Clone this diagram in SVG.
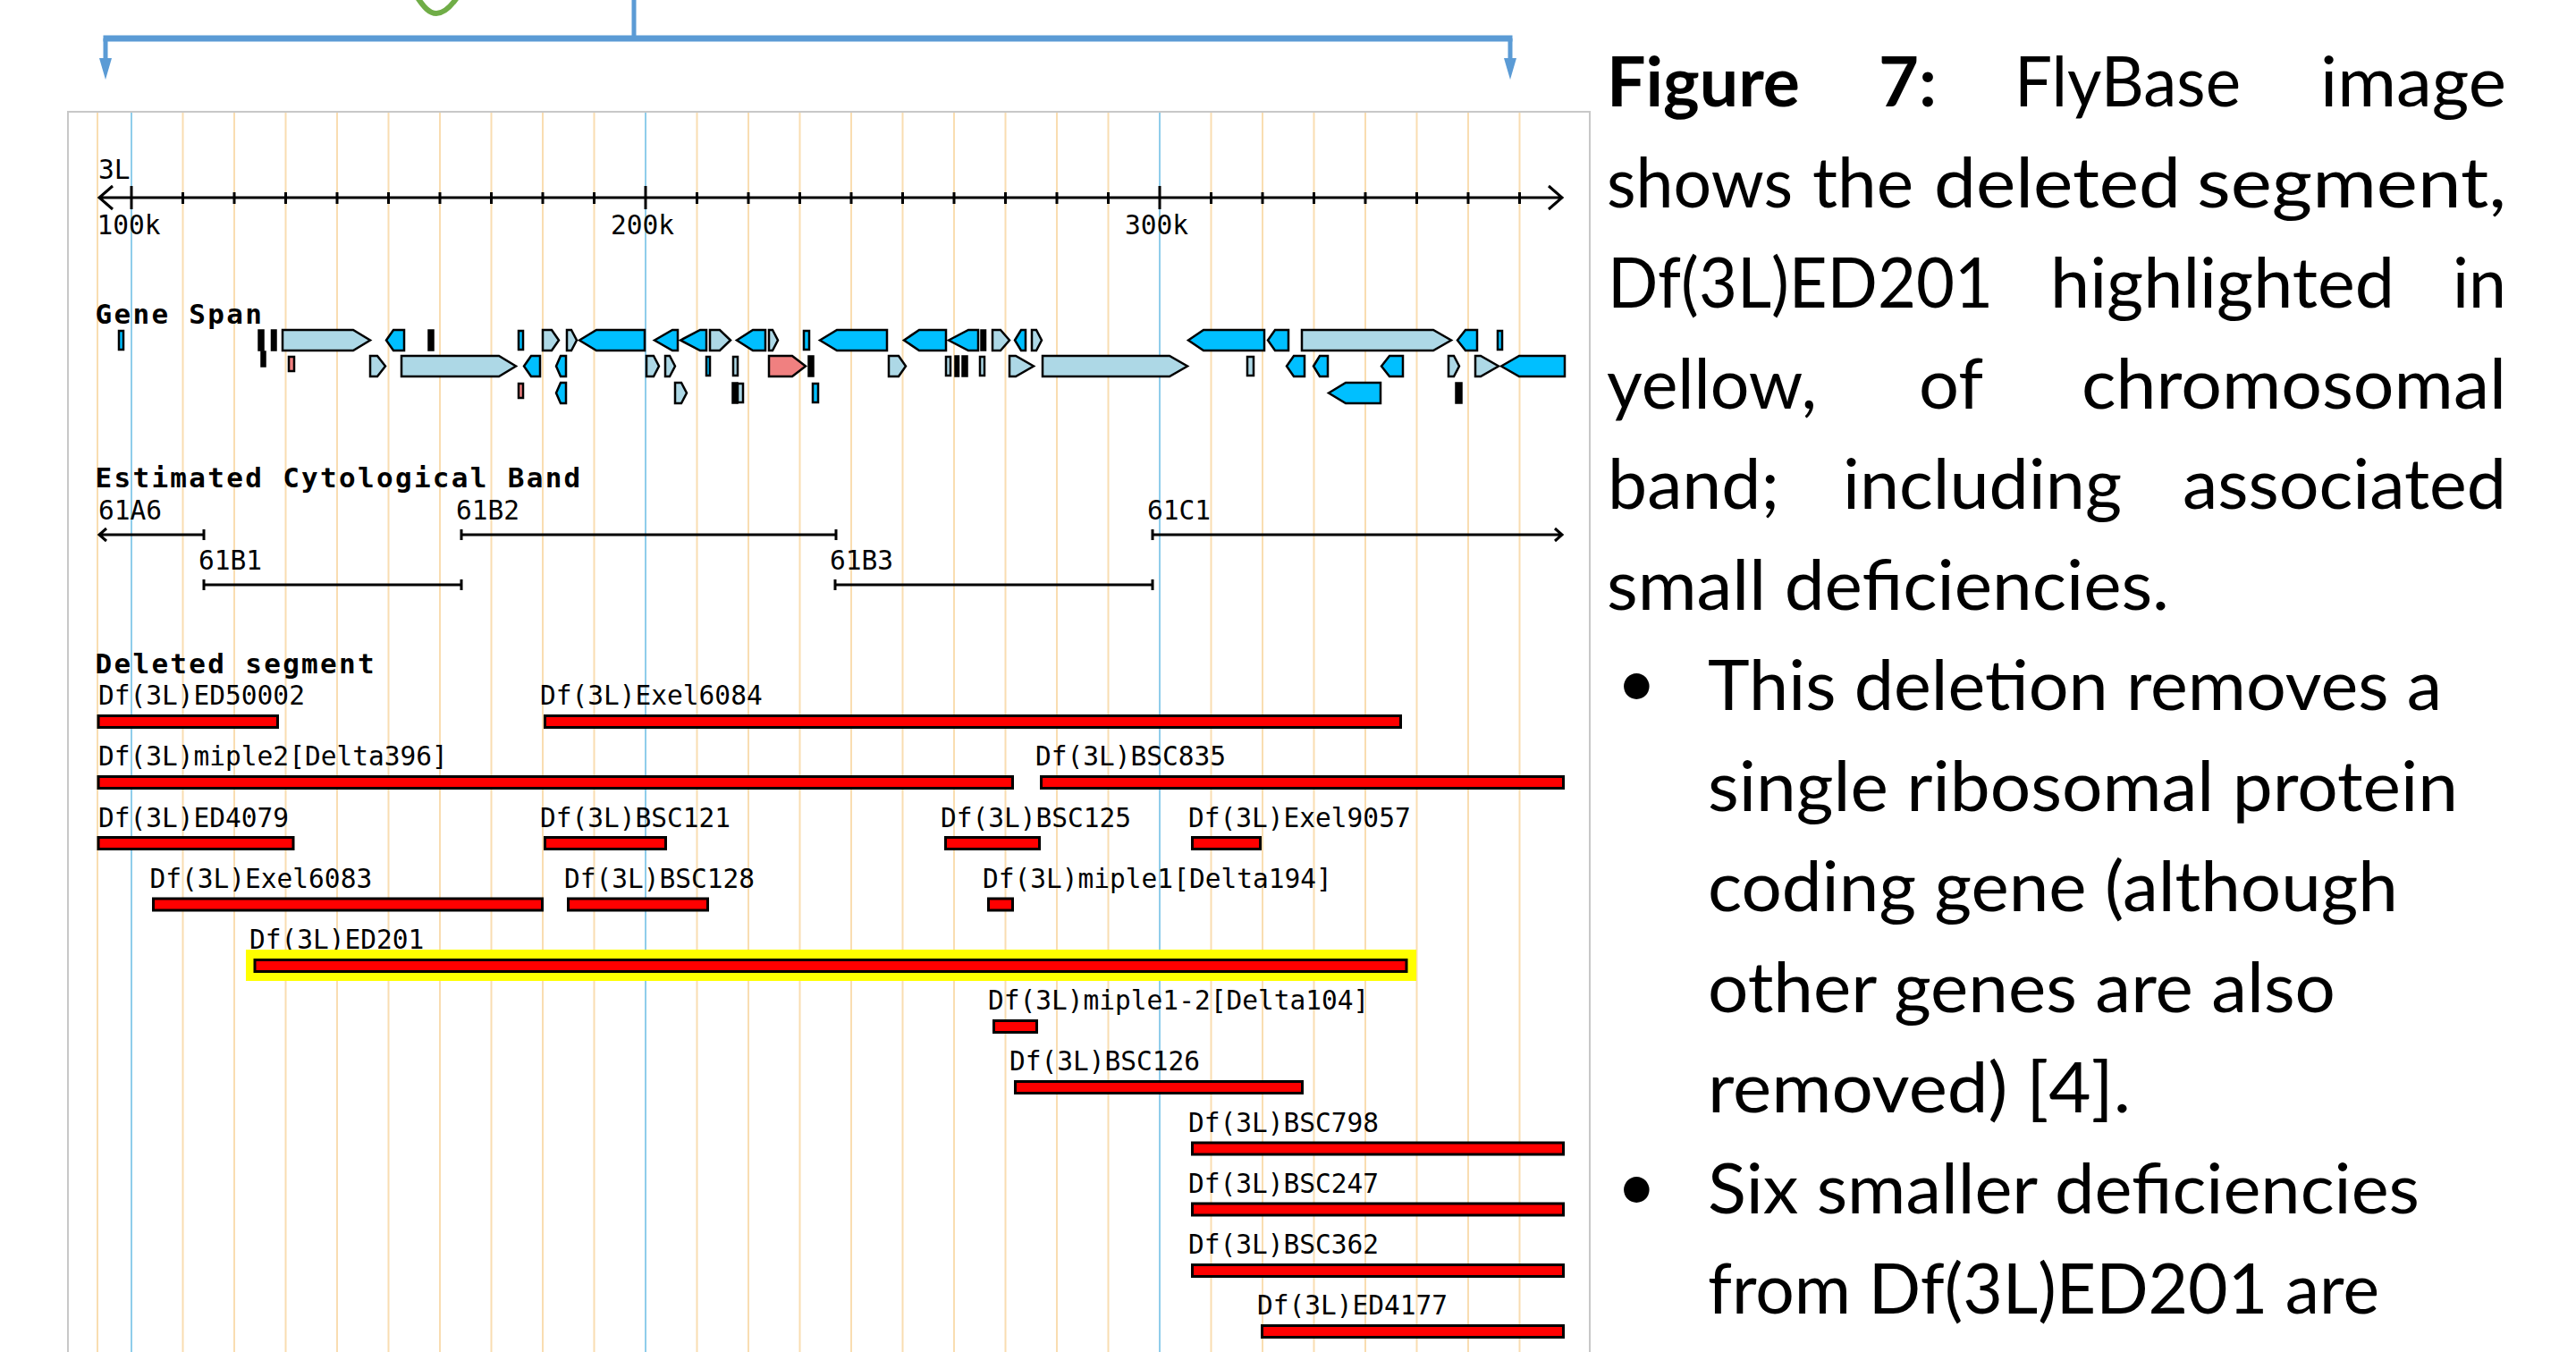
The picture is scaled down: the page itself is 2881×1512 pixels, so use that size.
<svg xmlns="http://www.w3.org/2000/svg" width="2881" height="1512" viewBox="0 0 2881 1512">
<style>
.grid{stroke:#F9DDB1;stroke-width:2;fill:none}
.gridb{stroke:#8FCDEB;stroke-width:2;fill:none}
.lbl{font-family:"DejaVu Sans Mono","Liberation Mono",monospace;font-size:29.5px;fill:#000}
.hd{font-family:"DejaVu Sans Mono","Liberation Mono",monospace;font-size:31px;font-weight:bold;letter-spacing:2.3px;fill:#000}
.ln{stroke:#000;stroke-width:3;fill:none}
.g{stroke:#000;stroke-width:2.5}
.L{fill:#ADD8E6}.D{fill:#00BFFF}.S{fill:#F08080}.K{fill:#000}
.bar{fill:#FF0000;stroke:#000;stroke-width:3}
.cap{font-family:Lato,"Open Sans","Liberation Sans",sans-serif;font-size:77px;fill:#000}
.b{font-weight:700}
.conn{stroke:#5B9BD5;fill:none}
</style>

<!-- bracket linking the region above to the browser panel -->
<g id="connectors">
  <path d="M466 -4 C474 8 480 15 488 15 C496 15 504 8 512 -4" stroke="#70AD47" stroke-width="6" fill="none"/>
  <path class="conn" stroke-width="5" d="M709 0V43"/>
  <path class="conn" stroke-width="7" d="M115.5 43H1691.5"/>
  <path class="conn" stroke-width="5" d="M118 43V68M1689 43V68"/>
  <polygon fill="#5B9BD5" points="111,65 125,65 118,89"/>
  <polygon fill="#5B9BD5" points="1682,65 1696,65 1689,89"/>
</g>

<!-- genome browser panel -->
<g id="panel">
  <rect x="76" y="125" width="1702" height="1420" fill="#fff" stroke="#C8C8C8" stroke-width="2"/>
  <path class="grid" d="M109 126V1512M204.5 126V1512M262 126V1512M319.5 126V1512M377 126V1512M434.5 126V1512M492 126V1512M549.5 126V1512M607 126V1512M664.5 126V1512M779.5 126V1512M837 126V1512M894.5 126V1512M952 126V1512M1009.5 126V1512M1067 126V1512M1124.5 126V1512M1182 126V1512M1239.5 126V1512M1354.5 126V1512M1412 126V1512M1469.5 126V1512M1527 126V1512M1584.5 126V1512M1642 126V1512M1699.5 126V1512"/>
  <path class="gridb" d="M147 126V1512M722 126V1512M1297 126V1512"/>
</g>

<!-- coordinate ruler -->
<g id="axis">
  <text class="lbl" x="110" y="200">3L</text>
  <path class="ln" stroke-width="3.5" d="M111 221H1747M126 208L111 221L126 234M1732 208L1747 221L1732 234"/>
  <path class="ln" d="M147 208V234M722 208V234M1297 208V234"/>
  <path class="ln" d="M204.5 215V228M262 215V228M319.5 215V228M377 215V228M434.5 215V228M492 215V228M549.5 215V228M607 215V228M664.5 215V228M779.5 215V228M837 215V228M894.5 215V228M952 215V228M1009.5 215V228M1067 215V228M1124.5 215V228M1182 215V228M1239.5 215V228M1354.5 215V228M1412 215V228M1469.5 215V228M1527 215V228M1584.5 215V228M1642 215V228M1699.5 215V228"/>
  <text class="lbl" x="144" y="262" text-anchor="middle">100k</text>
  <text class="lbl" x="718.5" y="262" text-anchor="middle">200k</text>
  <text class="lbl" x="1293.5" y="262" text-anchor="middle">300k</text>
</g>

<!-- gene span track -->
<g id="genes">
  <text class="hd" x="106.5" y="362">Gene Span</text>
  <g class="g">
    <!-- row 1 -->
    <rect class="D" x="133" y="370" width="5" height="21"/>
    <rect class="K" x="289.5" y="369.5" width="5" height="22"/>
    <rect class="K" x="304" y="369.5" width="4.5" height="22"/>
    <polygon class="L" points="316,369 395,369 414,380.5 395,392 316,392"/>
    <polygon class="D" points="432,380.5 440,369 452,369 452,392 440,392"/>
    <rect class="K" x="479.5" y="369.5" width="5" height="22"/>
    <rect class="D" x="580" y="370" width="5" height="21"/>
    <polygon class="L" points="607,369 617,369 625,380.5 617,392 607,392"/>
    <polygon class="L" points="634,369 639,369 645,380.5 639,392 634,392"/>
    <polygon class="D" points="648,380.5 667,369 721,369 721,392 667,392"/>
    <polygon class="D" points="732,380.5 752,369 758,369 758,392 752,392"/>
    <polygon class="D" points="761,380.5 783,369 790,369 790,392 783,392"/>
    <polygon class="L" points="794,369 805,369 817,380.5 805,392 794,392"/>
    <polygon class="D" points="824,380.5 842,369 856,369 856,392 842,392"/>
    <polygon class="L" points="860,369 864,369 870,380.5 864,392 860,392"/>
    <rect class="D" x="899" y="370" width="6" height="21"/>
    <polygon class="D" points="917,380.5 936,369 992,369 992,392 936,392"/>
    <polygon class="D" points="1011,380.5 1028,369 1058,369 1058,392 1028,392"/>
    <polygon class="D" points="1061,380.5 1083,369 1094,369 1094,392 1083,392"/>
    <rect class="K" x="1097.5" y="369.5" width="4.5" height="22"/>
    <polygon class="L" points="1110,369 1119,369 1129,380.5 1119,392 1110,392"/>
    <polygon class="D" points="1135,380.5 1142,369 1147,369 1147,392 1142,392"/>
    <polygon class="L" points="1154,369 1159,369 1165,380.5 1159,392 1154,392"/>
    <polygon class="D" points="1329,380.5 1346,369 1414,369 1414,392 1346,392"/>
    <polygon class="D" points="1418,380.5 1426,369 1441,369 1441,392 1426,392"/>
    <polygon class="L" points="1456,369 1603,369 1623,380.5 1603,392 1456,392"/>
    <polygon class="D" points="1630,380.5 1639,369 1652,369 1652,392 1639,392"/>
    <rect class="D" x="1675" y="370" width="5" height="21"/>
    <!-- row 2 -->
    <rect class="K" x="292.5" y="393.5" width="4" height="16"/>
    <rect class="S" x="323" y="399" width="6" height="16"/>
    <polygon class="L" points="414,398 422,398 431,409.5 422,421 414,421"/>
    <polygon class="L" points="449,398 558,398 577,409.5 558,421 449,421"/>
    <polygon class="D" points="586,409.5 594,398 604,398 604,421 594,421"/>
    <polygon class="D" points="622,409.5 627,398 633,398 633,421 627,421"/>
    <polygon class="L" points="723,398 731,398 737,409.5 731,421 723,421"/>
    <polygon class="L" points="744,398 749,398 755,409.5 749,421 744,421"/>
    <rect class="D" x="790" y="399" width="4" height="21"/>
    <rect class="L" x="820" y="399" width="5" height="21"/>
    <polygon class="S" points="860,398 886,398 901,409.5 886,421 860,421"/>
    <rect class="K" x="904.5" y="398.5" width="5" height="22"/>
    <polygon class="L" points="994,398 1005,398 1013,409.5 1005,421 994,421"/>
    <rect class="L" x="1058" y="399" width="5" height="21"/>
    <rect class="K" x="1068.5" y="398.5" width="3.5" height="22"/>
    <rect class="K" x="1076.5" y="398.5" width="5" height="22"/>
    <rect class="L" x="1096" y="399" width="5" height="21"/>
    <polygon class="L" points="1129,398 1136,398 1156,409.5 1136,421 1129,421"/>
    <polygon class="L" points="1166,398 1308,398 1328,409.5 1308,421 1166,421"/>
    <rect class="L" x="1395" y="399" width="7" height="21"/>
    <polygon class="D" points="1439,409.5 1447,398 1459,398 1459,421 1447,421"/>
    <polygon class="D" points="1469,409.5 1476,398 1485,398 1485,421 1476,421"/>
    <polygon class="D" points="1545,409.5 1554,398 1569,398 1569,421 1554,421"/>
    <polygon class="L" points="1620,398 1626,398 1632,409.5 1626,421 1620,421"/>
    <polygon class="L" points="1650,398 1656,398 1676,409.5 1656,421 1650,421"/>
    <polygon class="D" points="1679,409.5 1699,398 1750,398 1750,421 1699,421"/>
    <!-- row 3 -->
    <rect class="S" x="580" y="429" width="5" height="16"/>
    <polygon class="D" points="622,439.5 627,428 633,428 633,451 627,451"/>
    <polygon class="L" points="755,428 762,428 768,439.5 762,451 755,451"/>
    <rect class="K" x="819.5" y="428.5" width="5" height="22"/>
    <rect class="L" x="825" y="429" width="6" height="21"/>
    <rect class="D" x="909" y="429" width="6" height="21"/>
    <polygon class="D" points="1486,439.5 1505,428 1544,428 1544,451 1505,451"/>
    <rect class="K" x="1628.5" y="428.5" width="6" height="22"/>
  </g>
</g>

<!-- cytological band track -->
<g id="bands">
  <text class="hd" x="106.5" y="545">Estimated Cytological Band</text>
  <text class="lbl" x="110" y="581">61A6</text>
  <text class="lbl" x="510" y="581">61B2</text>
  <text class="lbl" x="1283" y="581">61C1</text>
  <text class="lbl" x="222" y="637">61B1</text>
  <text class="lbl" x="928" y="637">61B3</text>
  <path class="ln" d="M111 598H228M228 592V604M119 591L111 598L119 605"/>
  <path class="ln" d="M516 598H935M516 592V604M935 592V604"/>
  <path class="ln" d="M1289 598H1747M1289 592V604M1739 591L1747 598L1739 605"/>
  <path class="ln" d="M228 654H516M228 648V660M516 648V660"/>
  <path class="ln" d="M934 654H1289M934 648V660M1289 648V660"/>
</g>

<!-- deleted segment track -->
<g id="deletions">
  <text class="hd" x="106.5" y="753">Deleted segment</text>
  <g id="df-ed50002"><text class="lbl" x="110" y="788">Df(3L)ED50002</text><rect class="bar" x="110" y="800.5" width="200.5" height="13"/></g>
  <g id="df-exel6084"><text class="lbl" x="604" y="788">Df(3L)Exel6084</text><rect class="bar" x="609.5" y="800.5" width="957" height="13"/></g>
  <g id="df-miple2"><text class="lbl" x="110" y="856">Df(3L)miple2[Delta396]</text><rect class="bar" x="110" y="868.5" width="1022.5" height="13"/></g>
  <g id="df-bsc835"><text class="lbl" x="1158" y="856">Df(3L)BSC835</text><rect class="bar" x="1164.5" y="868.5" width="584" height="13"/></g>
  <g id="df-ed4079"><text class="lbl" x="110" y="924.5">Df(3L)ED4079</text><rect class="bar" x="110" y="936.5" width="218" height="13"/></g>
  <g id="df-bsc121"><text class="lbl" x="604" y="924.5">Df(3L)BSC121</text><rect class="bar" x="609.5" y="936.5" width="135" height="13"/></g>
  <g id="df-bsc125"><text class="lbl" x="1052" y="924.5">Df(3L)BSC125</text><rect class="bar" x="1057.5" y="936.5" width="105" height="13"/></g>
  <g id="df-exel9057"><text class="lbl" x="1329" y="924.5">Df(3L)Exel9057</text><rect class="bar" x="1333.5" y="936.5" width="76" height="13"/></g>
  <g id="df-exel6083"><text class="lbl" x="167.5" y="992.5">Df(3L)Exel6083</text><rect class="bar" x="171.5" y="1005" width="435" height="13"/></g>
  <g id="df-bsc128"><text class="lbl" x="631" y="992.5">Df(3L)BSC128</text><rect class="bar" x="635.5" y="1005" width="156" height="13"/></g>
  <g id="df-miple1"><text class="lbl" x="1099" y="992.5">Df(3L)miple1[Delta194]</text><rect class="bar" x="1105.5" y="1005" width="27" height="13"/></g>
  <g id="df-ed201">
    <text class="lbl" x="279" y="1061">Df(3L)ED201</text>
    <rect x="275" y="1062" width="1309" height="35" fill="#FFFF00"/>
    <rect class="bar" x="285" y="1073.5" width="1288" height="13"/>
  </g>
  <g id="df-miple1-2"><text class="lbl" x="1105" y="1129">Df(3L)miple1-2[Delta104]</text><rect class="bar" x="1111.5" y="1141.5" width="48" height="13"/></g>
  <g id="df-bsc126"><text class="lbl" x="1129" y="1197">Df(3L)BSC126</text><rect class="bar" x="1135.5" y="1209.5" width="321" height="13"/></g>
  <g id="df-bsc798"><text class="lbl" x="1329" y="1265.5">Df(3L)BSC798</text><rect class="bar" x="1333.5" y="1278" width="415" height="13"/></g>
  <g id="df-bsc247"><text class="lbl" x="1329" y="1333.5">Df(3L)BSC247</text><rect class="bar" x="1333.5" y="1346" width="415" height="13"/></g>
  <g id="df-bsc362"><text class="lbl" x="1329" y="1402">Df(3L)BSC362</text><rect class="bar" x="1333.5" y="1414.5" width="415" height="13"/></g>
  <g id="df-ed4177"><text class="lbl" x="1406" y="1470">Df(3L)ED4177</text><rect class="bar" x="1411.5" y="1482.5" width="337" height="13"/></g>
</g>

<!-- caption and notes -->
<g id="caption" class="cap">
  <text y="119"><tspan class="b" x="1797" textLength="216" lengthAdjust="spacingAndGlyphs">Figure</tspan><tspan class="b" x="2101" textLength="65" lengthAdjust="spacingAndGlyphs">7:</tspan><tspan x="2253" textLength="253" lengthAdjust="spacingAndGlyphs">FlyBase</tspan><tspan x="2595" textLength="208" lengthAdjust="spacingAndGlyphs">image</tspan></text>
  <text y="231.5"><tspan x="1797" textLength="208" lengthAdjust="spacingAndGlyphs">shows</tspan><tspan x="2027" textLength="113" lengthAdjust="spacingAndGlyphs">the</tspan><tspan x="2163" textLength="276" lengthAdjust="spacingAndGlyphs">deleted</tspan><tspan x="2457" textLength="346" lengthAdjust="spacingAndGlyphs">segment,</tspan></text>
  <text y="344"><tspan x="1798" textLength="431" lengthAdjust="spacingAndGlyphs">Df(3L)ED201</tspan><tspan x="2293" textLength="385" lengthAdjust="spacingAndGlyphs">highlighted</tspan><tspan x="2743" textLength="60" lengthAdjust="spacingAndGlyphs">in</tspan></text>
  <text y="456.5"><tspan x="1797" textLength="235" lengthAdjust="spacingAndGlyphs">yellow,</tspan><tspan x="2146" textLength="72" lengthAdjust="spacingAndGlyphs">of</tspan><tspan x="2328" textLength="475" lengthAdjust="spacingAndGlyphs">chromosomal</tspan></text>
  <text y="569"><tspan x="1798" textLength="192" lengthAdjust="spacingAndGlyphs">band;</tspan><tspan x="2061" textLength="312" lengthAdjust="spacingAndGlyphs">including</tspan><tspan x="2441" textLength="362" lengthAdjust="spacingAndGlyphs">associated</tspan></text>
  <text x="1797" y="681.5" textLength="629" lengthAdjust="spacingAndGlyphs">small deficiencies.</text>
  <text x="1808" y="791">•</text>
  <text x="1910" y="794" textLength="821" lengthAdjust="spacingAndGlyphs">This deletion removes a</text>
  <text x="1910" y="906.5" textLength="839" lengthAdjust="spacingAndGlyphs">single ribosomal protein</text>
  <text x="1910" y="1019" textLength="772" lengthAdjust="spacingAndGlyphs">coding gene (although</text>
  <text x="1910" y="1131.5" textLength="702" lengthAdjust="spacingAndGlyphs">other genes are also</text>
  <text x="1910" y="1244" textLength="473" lengthAdjust="spacingAndGlyphs">removed) [4].</text>
  <text x="1808" y="1353.5">•</text>
  <text x="1910" y="1356.5" textLength="796" lengthAdjust="spacingAndGlyphs">Six smaller deficiencies</text>
  <text x="1910" y="1469" textLength="751" lengthAdjust="spacingAndGlyphs">from Df(3L)ED201 are</text>
</g>
</svg>
